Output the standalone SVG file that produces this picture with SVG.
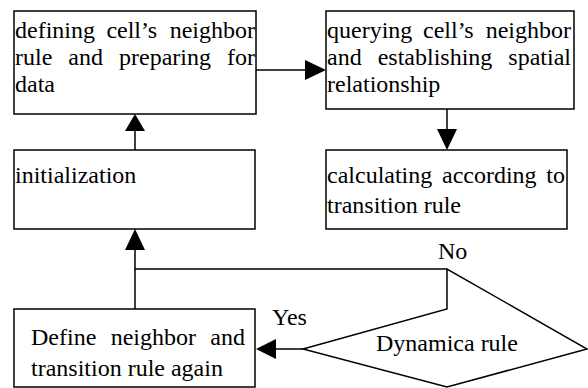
<svg xmlns="http://www.w3.org/2000/svg" width="588" height="388" viewBox="0 0 588 388" font-family="'Liberation Serif', 'Times New Roman', Tinos, 'DejaVu Serif', serif">
<style>
.box{fill:#fff;stroke:#000;stroke-width:1.5}
.ln{fill:none;stroke:#000;stroke-width:1.5}
.ah{fill:#000;stroke:none}
.t{font-family:'Liberation Serif', 'Times New Roman', Tinos, 'DejaVu Serif', serif;font-size:24px;fill:#000}
</style>
<rect width="588" height="388" fill="#fff"/>
<g id="connectors">
<line class="ln" x1="256" y1="70" x2="306" y2="70"/>
<polygon class="ah" points="326,70 305,60 305,80"/>
<line class="ln" x1="447" y1="109" x2="447" y2="130"/>
<polygon class="ah" points="447,150 437,129 457,129"/>
<line class="ln" x1="135" y1="150" x2="135" y2="130"/>
<polygon class="ah" points="135,114 125,131 145,131"/>
<polyline class="ln" points="447,269 135,269 135,250"/>
<line class="ln" x1="135" y1="309" x2="135" y2="269"/>
<polygon class="ah" points="135,229 125,250 145,250"/>
<line class="ln" x1="303" y1="349" x2="275" y2="349"/>
<polygon class="ah" points="256,349 276,339 276,359"/>
<text class="t" x="438" y="259">No</text>
<text class="t" x="272" y="325">Yes</text>
</g>
<g id="n1">
<rect class="box" x="14" y="11" width="242" height="103"/>
<text class="t" y="38"><tspan x="15">defining</tspan><tspan x="106.4">cell’s</tspan><tspan x="169.7">neighbor</tspan></text>
<text class="t" y="65"><tspan x="15">rule</tspan><tspan x="68.3">and</tspan><tspan x="119">preparing</tspan><tspan x="227">for</tspan></text>
<text class="t" x="15" y="92">data</text>
</g>
<g id="n2">
<rect class="box" x="326" y="11" width="248" height="98"/>
<text class="t" y="38"><tspan x="327">querying</tspan><tspan x="423">cell’s</tspan><tspan x="485.7">neighbor</tspan></text>
<text class="t" y="65"><tspan x="327">and</tspan><tspan x="377.7">establishing</tspan><tspan x="508.3">spatial</tspan></text>
<text class="t" x="327" y="92">relationship</text>
</g>
<g id="n3">
<rect class="box" x="326" y="150" width="241" height="79"/>
<text class="t" y="183"><tspan x="327">calculating</tspan><tspan x="442">according</tspan><tspan x="546.3">to</tspan></text>
<text class="t" x="327" y="213">transition rule</text>
</g>
<g id="n4">
<rect class="box" x="14" y="150" width="241" height="79"/>
<text class="t" x="15" y="183">initialization</text>
</g>
<g id="n5">
<rect class="box" x="14" y="309" width="241" height="78"/>
<text class="t" y="345"><tspan x="31">Define</tspan><tspan x="110.7">neighbor</tspan><tspan x="210.3">and</tspan></text>
<text class="t" x="31" y="376">transition rule again</text>
</g>
<g id="n6">
<polygon class="box" points="303,349 447,309 447,269 587,349 447,387"/>
<text class="t" x="376" y="351">Dynamica rule</text>
</g>
</svg>
